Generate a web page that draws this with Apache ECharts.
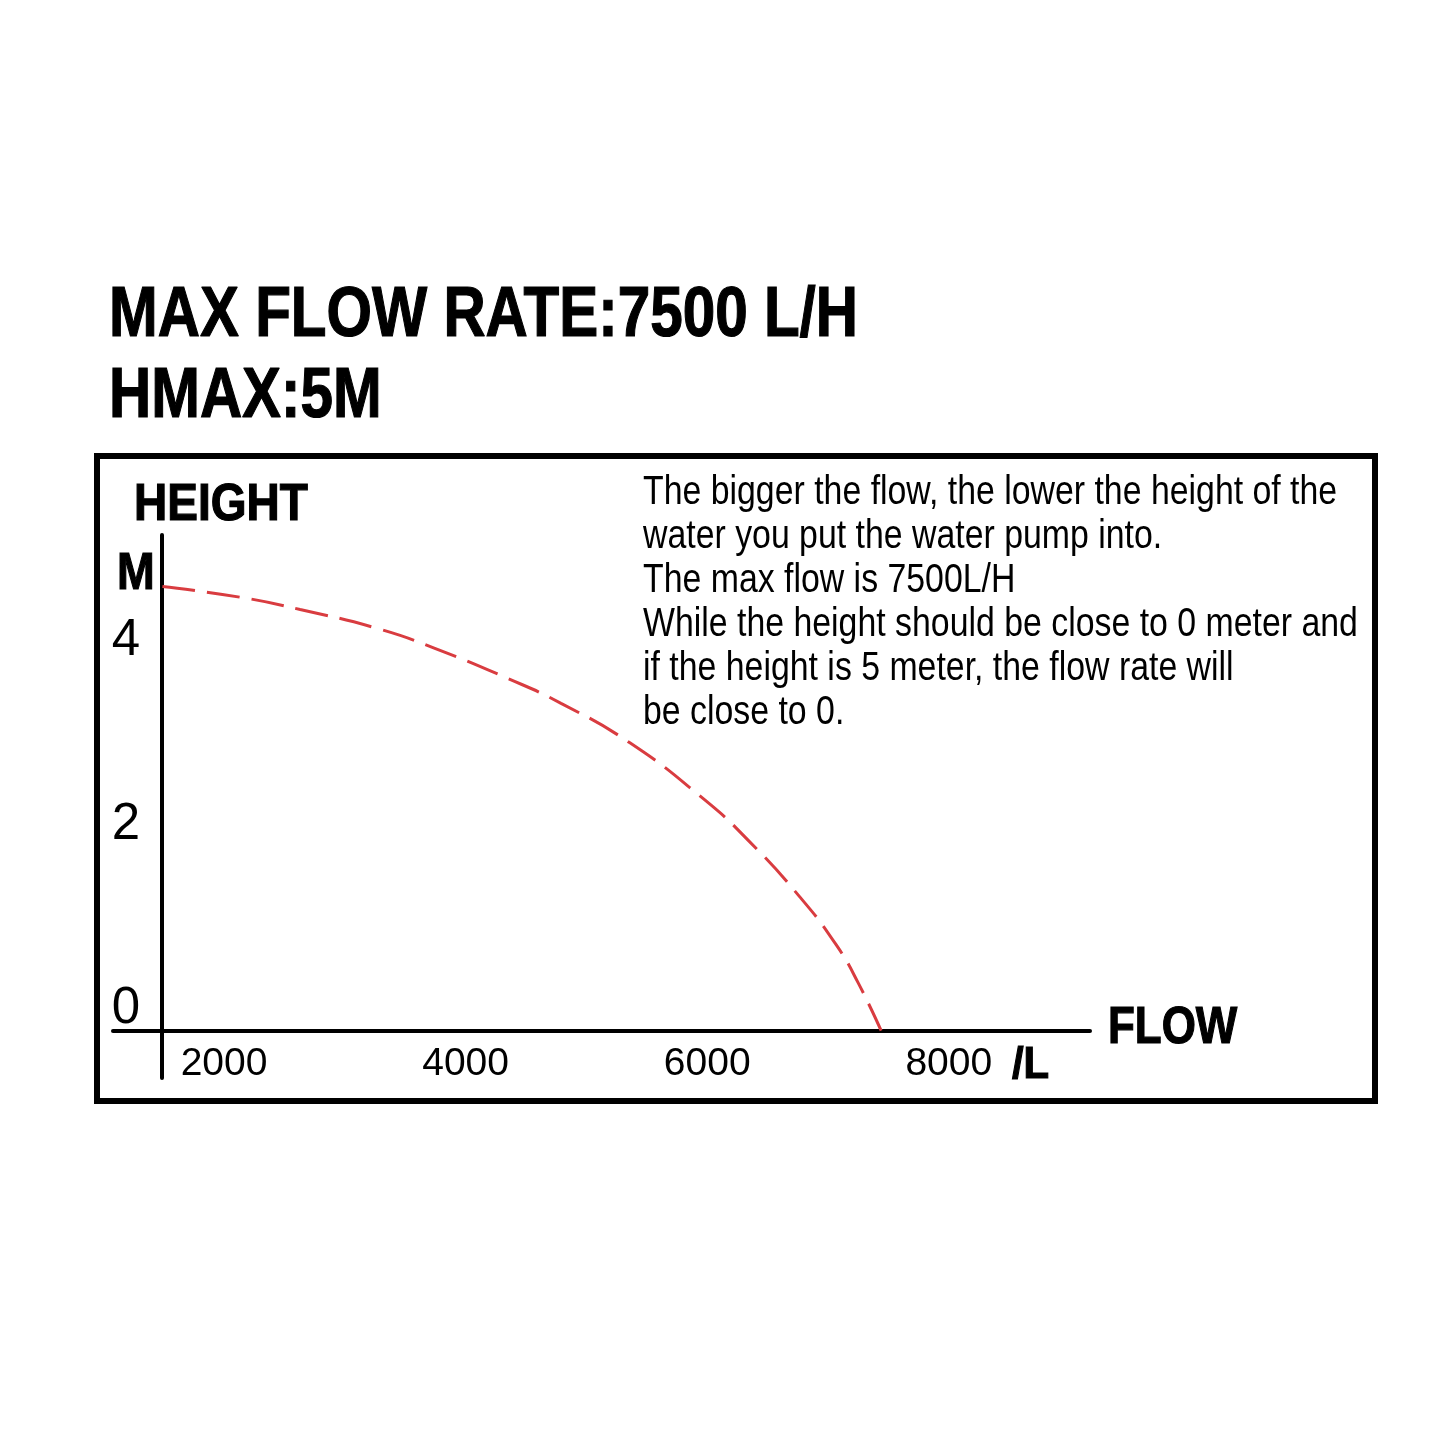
<!DOCTYPE html>
<html>
<head>
<meta charset="utf-8">
<script src="https://cdn.jsdelivr.net/npm/echarts@6/dist/echarts.min.js"></script>
<style>
html,body{margin:0;padding:0;background:#fff;}
#chart{width:1445px;height:1445px;}
</style>
</head>
<body>
<div id="chart"></div>
<script>
// ---- data ----
const flowValues   = [1490, 2150, 2630, 3280, 3740, 4350, 4790, 5360, 5970, 6340, 6770, 7070, 7250, 7440];
const heightValues = [4.83, 4.71, 4.58, 4.37, 4.16, 3.83, 3.56, 3.13, 2.52, 2.07, 1.45, 0.93, 0.52, 0];
const xTickLabels  = [2000, 4000, 6000, 8000];
const yTickLabels  = [0, 2, 4];
const titleLines   = ['MAX FLOW RATE:7500 L/H', 'HMAX:5M'];
const noteText = [
  'The bigger the flow, the lower the height of the',
  'water you put the water pump into.',
  'The max flow is 7500L/H',
  'While the height should be close to 0 meter and',
  'if the height is 5 meter, the flow rate will',
  'be close to 0.'
];

const SANS = "'Liberation Sans', Arial, sans-serif";
const boldText = (txt, size) => ({text: txt, x: 0, y: 0, font: 'bold ' + size + 'px ' + SANS,
  fill: '#000', stroke: '#000', lineWidth: 1.2, verticalAlign: 'middle'});

const chart = echarts.init(document.getElementById('chart'), null, {renderer: 'canvas'});
const option = {
  backgroundColor: '#ffffff',
  animation: false,
  grid: {left: 113, right: 355, top: 535, bottom: 367, containLabel: false},
  xAxis: {
    type: 'value',
    min: 1081, max: 9169,
    axisLine: {show: true, onZero: true, lineStyle: {color: '#000', width: 4}},
    axisTick: {show: false},
    splitLine: {show: false},
    axisLabel: {
      customValues: xTickLabels,
      formatter: v => String(v),
      fontFamily: SANS, fontSize: 39, color: '#000', margin: -34, lineHeight: 40
    }
  },
  yAxis: {
    type: 'value',
    min: -0.514, max: 5.39,
    offset: -49,
    axisLine: {show: true, onZero: false, lineStyle: {color: '#000', width: 4}},
    axisTick: {show: false},
    splitLine: {show: false},
    axisLabel: {
      customValues: yTickLabels,
      fontFamily: SANS, fontSize: 51, color: '#000', margin: 22,
      verticalAlign: 'bottom', lineHeight: 44
    }
  },
  series: [{
    type: 'line',
    data: flowValues.map((f, i) => [f, heightValues[i]]),
    smooth: true,
    showSymbol: false,
    symbol: 'none',
    lineStyle: {color: '#d93c40', width: 3, type: [33, 12]}
  }],
  graphic: [
    {type: 'rect', shape: {x: 97, y: 456, width: 1278, height: 645},
     style: {fill: 'none', stroke: '#000', lineWidth: 6}, silent: true},
    {type: 'text', x: 109, y: 317, scaleX: 0.835, style: boldText(titleLines[0], 70)},
    {type: 'text', x: 109, y: 398, scaleX: 0.835, style: boldText(titleLines[1], 70)},
    {type: 'text', x: 134, y: 506, scaleX: 0.885, style: boldText('HEIGHT', 52)},
    {type: 'text', x: 117, y: 575, scaleX: 0.87, style: boldText('M', 52)},
    {type: 'text', x: 1108, y: 1029, scaleX: 0.845, style: boldText('FLOW', 52)},
    {type: 'text', x: 1012, y: 1066, scaleX: 0.95, style: boldText('/L', 44)},
    {type: 'text', x: 643, y: 471, scaleX: 0.846,
     style: {text: noteText.join('\n'), x: 0, y: 0, font: '40px ' + SANS, lineHeight: 44, fill: '#000', verticalAlign: 'top'}}
  ]
};
chart.setOption(option);
</script>
</body>
</html>
